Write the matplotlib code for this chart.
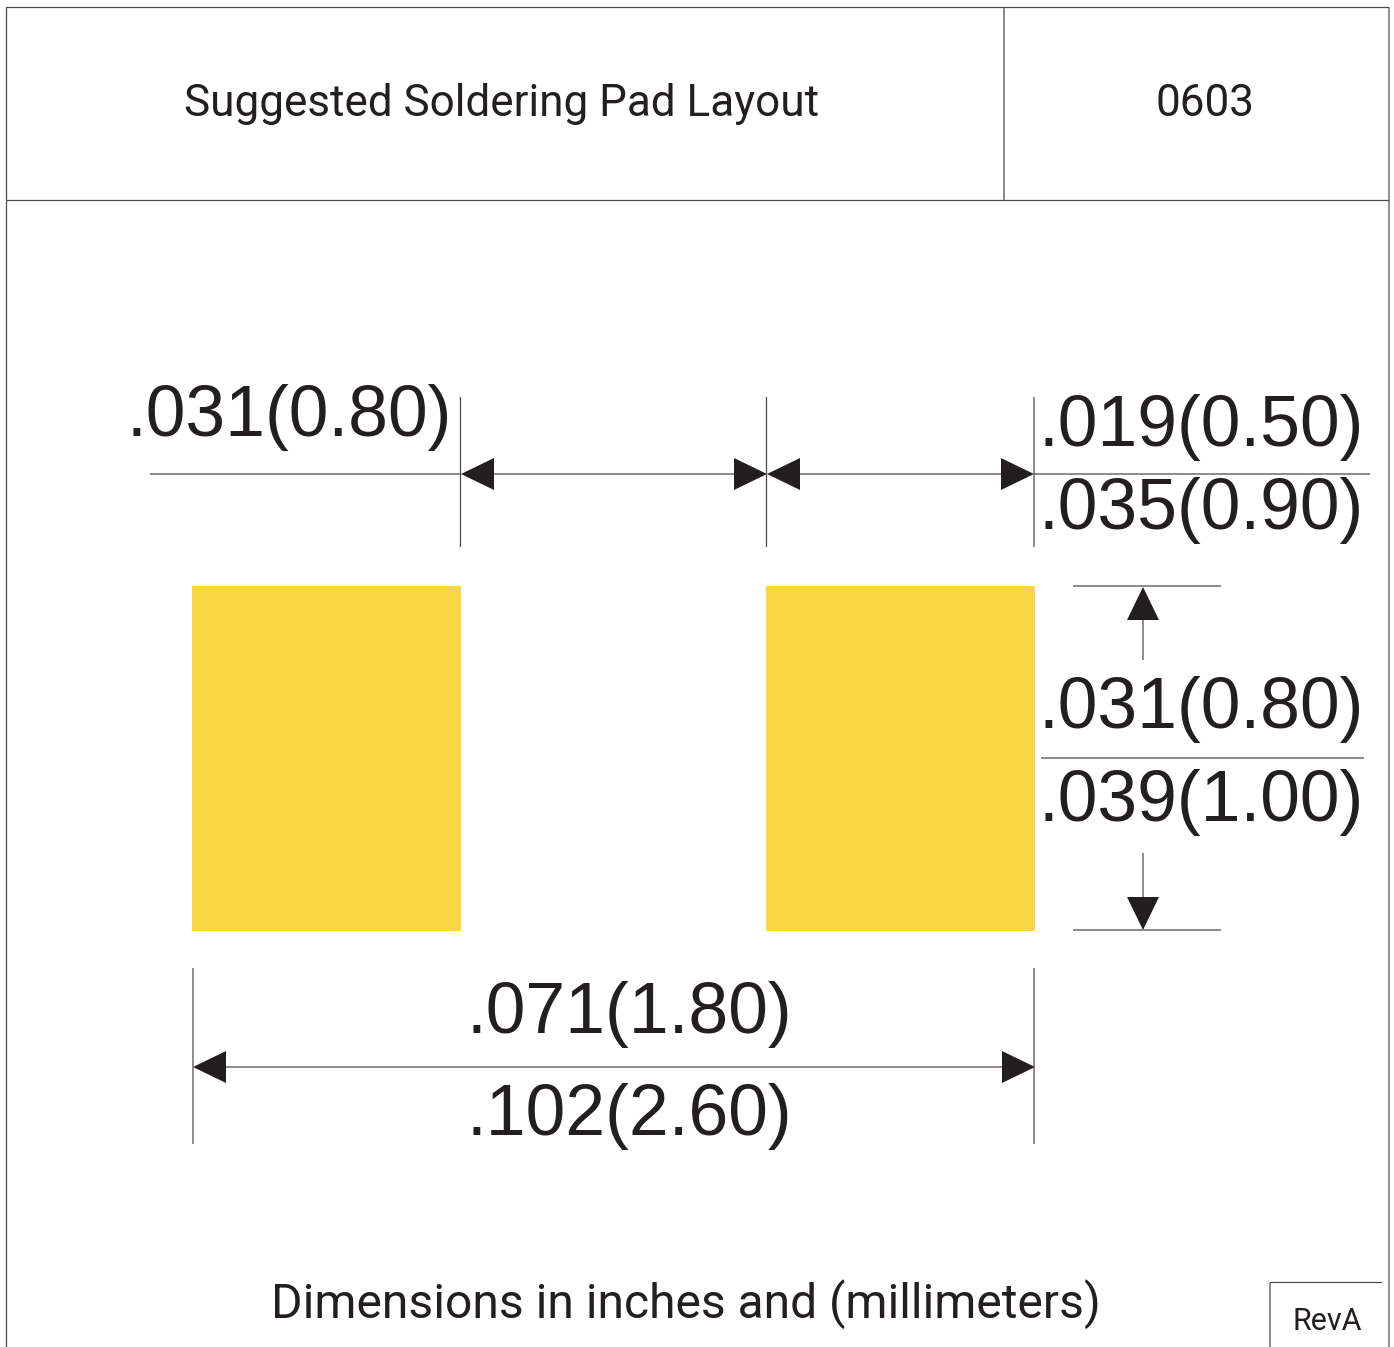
import matplotlib.pyplot as plt
from matplotlib.patches import Rectangle, Polygon

W, H = 1394, 1347
INK = "#231f20"
RULE = "#4d4a4b"
PAD = "#fbd644"

# ---- data (pixel coordinates) ----
pad_lefts = [192, 766]
pad_rights = [461, 1034.5]
pad_top, pad_bottom = 586, 930.5

dim_labels = [".031(0.80)", ".019(0.50)", ".035(0.90)", ".031(0.80)",
              ".039(1.00)", ".071(1.80)", ".102(2.60)"]
dim_x = [289, 1201, 1201, 1201, 1201, 629, 629]
dim_base = [436, 446, 529, 728, 821, 1033, 1135]

rules_h = [(6, 1389, 7.5), (6, 1389, 200.5), (150, 460, 474), (494, 734, 474),
           (800, 1001, 474), (1034, 1370, 474), (1041, 1364, 758),
           (1073, 1221, 586), (1073, 1221, 930), (226, 1002, 1067),
           (1270, 1382, 1282.5)]
rules_v = [(6.5, 7, 1347), (1389, 7, 1347), (1004, 7, 200), (460.5, 397, 547),
           (766.5, 397, 547), (1034, 397, 547), (1143, 620, 660),
           (1143, 853, 897), (193, 968, 1144), (1034, 968, 1144),
           (1270, 1283, 1347)]

# tip x, tip y, direction
arrows = [(461, 474, "left"), (767, 474, "right"), (767, 474, "left"),
          (1034, 474, "right"), (1143, 587, "up"), (1143, 930, "down"),
          (193, 1067, "left"), (1035, 1067, "right")]

fig = plt.figure(figsize=(W / 100, H / 100), dpi=100)
ax = fig.add_axes([0, 0, 1, 1])
ax.set_xlim(0, W)
ax.set_ylim(H, 0)
ax.axis("off")


def arrow(x, y, way, size=33, half=16):
    if way == "left":
        pts = [(x, y), (x + size, y - half), (x + size, y + half)]
    elif way == "right":
        pts = [(x, y), (x - size, y - half), (x - size, y + half)]
    elif way == "up":
        pts = [(x, y), (x - half, y + size), (x + half, y + size)]
    else:
        pts = [(x, y), (x - half, y - size), (x + half, y - size)]
    ax.add_patch(Polygon(pts, closed=True, fc=INK, ec="none"))


for left, right in zip(pad_lefts, pad_rights):
    ax.add_patch(Rectangle((left, pad_top), right - left, pad_bottom - pad_top, fc=PAD, ec="none"))

for x0, x1, y in rules_h:
    ax.plot([x0, x1], [y, y], color=RULE, lw=0.9, solid_capstyle="butt", snap=False)
for x, y0, y1 in rules_v:
    ax.plot([x, x], [y0, y1], color=RULE, lw=0.9, solid_capstyle="butt", snap=False)

for x, y, way in arrows:
    arrow(x, y, way)

font = ["Liberation Sans", "DejaVu Sans"]
narrow = ["Roboto", "DejaVu Sans"]
for label, x, y in zip(dim_labels, dim_x, dim_base):
    ax.text(x, y, label, fontsize=51.5, color=INK, family=font, ha="center", va="baseline")

ax.text(502, 116, "Suggested Soldering Pad Layout", fontsize=31.7, color=INK, family=narrow,
        ha="center", va="baseline")
ax.text(1205, 116, "0603", fontsize=31.7, color=INK, family=narrow, ha="center", va="baseline")
ax.text(686, 1318, "Dimensions in inches and (millimeters)", fontsize=34.6, color=INK, family=narrow,
        ha="center", va="baseline")
ax.text(1327, 1330, "RevA", fontsize=22, color=INK, family=narrow, ha="center", va="baseline")

fig.savefig("out.png", dpi=100, facecolor="white")
